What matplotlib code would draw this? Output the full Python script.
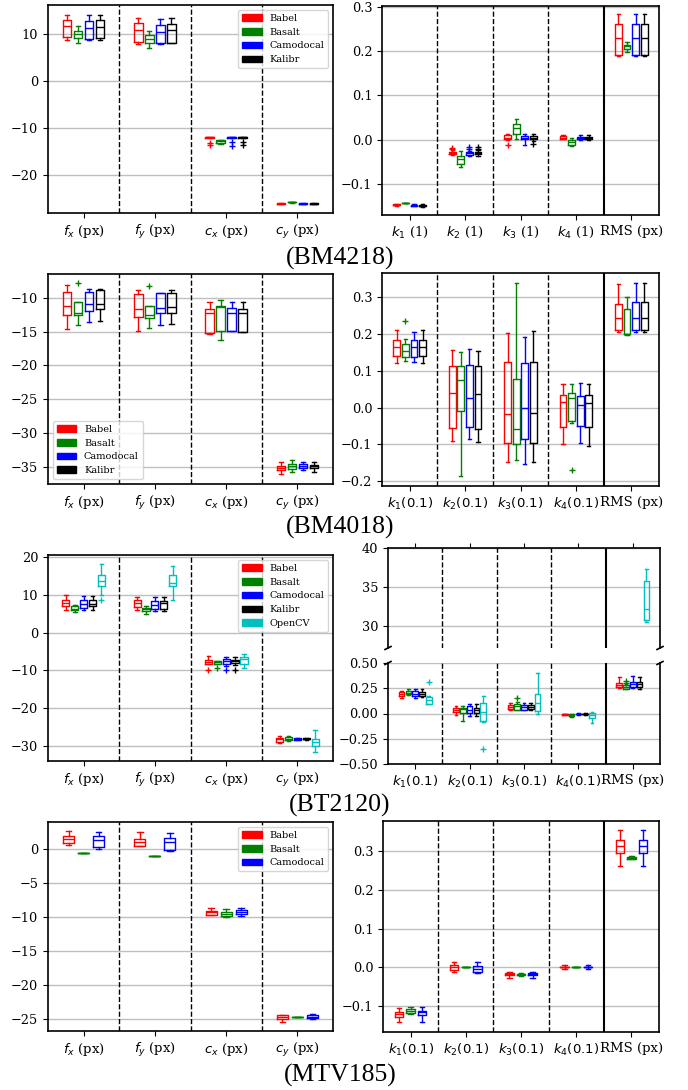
import matplotlib
matplotlib.use('Agg')
import matplotlib.pyplot as plt
import matplotlib.patches as mpatches

plt.rcParams['font.family'] = ['DejaVu Serif']
plt.rcParams['mathtext.fontset'] = 'dejavusans'

SERIES = ['Babel', 'Basalt', 'Camodocal', 'Kalibr', 'OpenCV']
COLORS = ['#ff0000', '#008000', '#0000ff', '#000000', '#00bfbf']

INTR_LABELS = [r'$f_x$ (px)', r'$f_y$ (px)', r'$c_x$ (px)', r'$c_y$ (px)']
DIST_LABELS_1 = [r'$k_1$ (1)', r'$k_2$ (1)', r'$k_3$ (1)', r'$k_4$ (1)', 'RMS (px)']
DIST_LABELS_01 = [r'$k_1(0.1)$', r'$k_2(0.1)$', r'$k_3(0.1)$', r'$k_4(0.1)$', 'RMS (px)']
CAPTIONS = ['(BM4218)', '(BM4018)', '(BT2120)', '(MTV185)']

# each entry: [whisker_low, q1, median, q3, whisker_high] per category
# ---------------- BM4218 ----------------
bm4218_intr_babel = [[8.7, 9.3, 11.8, 13.0, 14.1], [7.9, 8.4, 10.9, 12.3, 13.4], [-12.2, -12.1, -12.0, -11.95, -11.9], [-26.25, -26.15, -26.1, -26.0, -25.95]]
bm4218_intr_basalt = [[8.2, 9.1, 10.0, 10.7, 11.7], [7.1, 8.1, 8.9, 9.8, 10.7], [-13.3, -13.1, -12.85, -12.6, -12.5], [-25.9, -25.85, -25.8, -25.75, -25.7]]
bm4218_intr_camodocal = [[8.7, 8.9, 11.2, 12.7, 14.0], [8.0, 8.1, 10.5, 12.0, 13.3], [-12.2, -12.1, -12.0, -11.95, -11.9], [-26.2, -26.15, -26.1, -26.05, -26.0]]
bm4218_intr_kalibr = [[8.7, 9.1, 11.6, 13.0, 14.1], [8.1, 8.2, 10.9, 12.1, 13.4], [-12.2, -12.1, -12.0, -11.95, -11.9], [-26.2, -26.15, -26.1, -26.05, -26.0]]
bm4218_intr_fliers = [{2: [-13.2, -13.6]}, {}, {2: [-13.0, -13.8]}, {2: [-12.9, -13.6]}]

bm4218_dist_babel = [[-0.149, -0.148, -0.147, -0.146, -0.145], [-0.034, -0.032, -0.030, -0.027, -0.024], [0.0, 0.001, 0.005, 0.011, 0.014], [0.001, 0.002, 0.005, 0.008, 0.011], [0.189, 0.192, 0.230, 0.261, 0.284]]
bm4218_dist_basalt = [[-0.144, -0.1435, -0.143, -0.1425, -0.142], [-0.062, -0.054, -0.043, -0.037, -0.025], [0.001, 0.013, 0.026, 0.035, 0.047], [-0.015, -0.011, -0.005, 0.0, 0.005], [0.199, 0.204, 0.211, 0.215, 0.221]]
bm4218_dist_camodocal = [[-0.150, -0.149, -0.148, -0.147, -0.146], [-0.036, -0.034, -0.031, -0.028, -0.025], [-0.011, 0.001, 0.005, 0.009, 0.013], [-0.001, 0.001, 0.004, 0.007, 0.011], [0.189, 0.192, 0.230, 0.261, 0.284]]
bm4218_dist_kalibr = [[-0.151, -0.150, -0.149, -0.148, -0.146], [-0.036, -0.033, -0.030, -0.027, -0.024], [-0.003, 0.001, 0.005, 0.009, 0.013], [0.0, 0.002, 0.004, 0.007, 0.011], [0.189, 0.192, 0.230, 0.261, 0.284]]
bm4218_dist_fliers = [{1: [-0.020, -0.018], 2: [-0.011]}, {}, {1: [-0.020, -0.016]}, {1: [-0.020, -0.016], 2: [-0.010]}]

# ---------------- BM4018 ----------------
bm4018_intr_babel = [[-14.6, -12.6, -11.2, -9.1, -8.1], [-14.9, -12.9, -11.6, -9.5, -8.8], [-15.3, -15.2, -12.3, -11.6, -10.7], [-36.0, -35.4, -35.1, -34.8, -34.3]]
bm4018_intr_basalt = [[-14.0, -12.6, -12.3, -10.7, -10.7], [-14.4, -13.0, -12.6, -11.2, -11.2], [-16.3, -14.9, -11.4, -11.2, -10.4], [-35.8, -35.3, -34.8, -34.6, -33.9]]
bm4018_intr_camodocal = [[-13.6, -11.9, -11.0, -9.1, -8.7], [-14.1, -12.3, -11.5, -9.3, -9.3], [-14.9, -14.9, -12.2, -11.5, -10.7], [-35.5, -35.1, -34.8, -34.6, -34.2]]
bm4018_intr_kalibr = [[-13.4, -11.7, -10.9, -8.9, -8.7], [-13.9, -12.2, -11.3, -9.3, -8.9], [-15.1, -15.0, -12.3, -11.6, -10.7], [-35.7, -35.2, -34.9, -34.7, -34.3]]
bm4018_intr_fliers = [{}, {0: [-7.9], 1: [-8.3]}, {}, {}]

bm4018_dist_babel = [[0.121, 0.141, 0.165, 0.183, 0.210], [-0.090, -0.056, 0.039, 0.114, 0.157], [-0.149, -0.095, -0.018, 0.123, 0.203], [-0.100, -0.052, 0.015, 0.035, 0.064], [0.205, 0.212, 0.243, 0.281, 0.336]]
bm4018_dist_basalt = [[0.127, 0.139, 0.155, 0.173, 0.186], [-0.186, -0.008, 0.074, 0.112, 0.150], [-0.143, -0.100, -0.059, 0.077, 0.340], [-0.041, -0.036, 0.025, 0.039, 0.063], [0.198, 0.200, 0.201, 0.268, 0.300]]
bm4018_dist_camodocal = [[0.124, 0.139, 0.166, 0.183, 0.205], [-0.084, -0.052, 0.026, 0.115, 0.159], [-0.154, -0.086, 0.0, 0.120, 0.192], [-0.095, -0.050, 0.006, 0.032, 0.066], [0.205, 0.212, 0.243, 0.287, 0.340]]
bm4018_dist_kalibr = [[0.121, 0.141, 0.165, 0.185, 0.211], [-0.093, -0.057, 0.036, 0.114, 0.155], [-0.147, -0.096, -0.015, 0.125, 0.207], [-0.103, -0.053, 0.012, 0.035, 0.064], [0.205, 0.212, 0.243, 0.287, 0.340]]
bm4018_dist_fliers = [{}, {0: [0.235], 3: [-0.170]}, {}, {}]

# ---------------- BT2120 ----------------
bt2120_intr_babel = [[6.1, 7.2, 7.9, 8.7, 9.9], [5.9, 6.8, 7.9, 8.6, 9.6], [-8.4, -8.4, -7.7, -7.1, -6.3], [-29.1, -28.9, -28.2, -27.8, -27.3]]
bt2120_intr_basalt = [[5.4, 5.9, 6.4, 7.0, 7.3], [4.9, 5.7, 6.4, 6.6, 7.0], [-8.4, -8.4, -7.8, -7.4, -7.4], [-28.7, -28.5, -28.1, -27.7, -27.4]]
bt2120_intr_camodocal = [[5.9, 6.6, 7.7, 8.6, 9.8], [5.7, 6.4, 7.3, 8.3, 9.5], [-8.9, -8.3, -7.5, -7.0, -6.4], [-28.5, -28.4, -28.2, -28.0, -27.9]]
bt2120_intr_kalibr = [[6.1, 7.0, 7.7, 8.6, 9.8], [5.8, 6.3, 7.8, 8.4, 9.4], [-8.5, -8.0, -7.6, -7.1, -6.4], [-28.4, -28.3, -28.2, -28.0, -27.9]]
bt2120_intr_opencv = [[9.9, 12.3, 13.8, 15.4, 18.1], [8.6, 12.4, 13.3, 15.3, 17.7], [-9.3, -8.2, -6.9, -6.4, -5.6], [-31.6, -30.0, -28.9, -28.2, -25.7]]
bt2120_intr_fliers = [{2: [-10.0]}, {2: [-9.4]}, {2: [-10.0]}, {2: [-9.9]}, {0: [8.6]}]

bt2120_dist_babel = [[0.157, 0.170, 0.193, 0.213, 0.223], [-0.016, 0.010, 0.039, 0.056, 0.079], [0.033, 0.043, 0.066, 0.089, 0.105], [-0.016, -0.013, -0.007, -0.002, 0.0], [0.252, 0.262, 0.285, 0.302, 0.361]]
bt2120_dist_basalt = [[0.180, 0.190, 0.207, 0.223, 0.246], [-0.079, 0.007, 0.049, 0.056, 0.072], [0.033, 0.039, 0.072, 0.098, 0.115], [-0.039, -0.023, -0.010, -0.003, 0.0], [0.243, 0.246, 0.262, 0.279, 0.290]]
bt2120_dist_camodocal = [[0.157, 0.170, 0.197, 0.220, 0.243], [-0.026, 0.007, 0.039, 0.075, 0.098], [0.030, 0.039, 0.066, 0.089, 0.108], [-0.012, -0.009, -0.005, -0.002, 0.001], [0.252, 0.262, 0.289, 0.308, 0.367]]
bt2120_dist_kalibr = [[0.160, 0.170, 0.197, 0.216, 0.239], [-0.026, 0.007, 0.033, 0.056, 0.092], [0.033, 0.043, 0.066, 0.082, 0.105], [-0.012, -0.009, -0.005, -0.002, 0.001], [0.246, 0.262, 0.289, 0.308, 0.364]]
bt2120_dist_opencv = [[0.092, 0.095, 0.131, 0.164, 0.170], [-0.089, -0.079, 0.016, 0.105, 0.174], [-0.007, 0.026, 0.102, 0.190, 0.397], [-0.095, -0.049, -0.013, 0.007, 0.016], [30.5, 30.7, 32.1, 35.7, 37.3]]
bt2120_dist_fliers = [{}, {2: [0.157], 4: [0.303, 0.318]}, {}, {}, {0: [0.311], 1: [-0.351]}]

# ---------------- MTV185 ----------------
mtv185_intr_babel = [[0.59, 0.88, 1.47, 1.96, 2.75], [0.49, 0.54, 1.13, 1.52, 2.5], [-9.73, -9.63, -9.28, -9.04, -8.69], [-25.4, -25.0, -24.65, -24.4, -24.35]]
mtv185_intr_basalt = [[-0.59, -0.59, -0.59, -0.59, -0.59], [-0.93, -0.93, -0.93, -0.93, -0.93], [-10.0, -9.82, -9.53, -9.18, -8.79], [-24.7, -24.7, -24.7, -24.7, -24.7]]
mtv185_intr_camodocal = [[0.0, 0.39, 1.38, 1.96, 2.6], [-0.2, -0.1, 1.13, 1.62, 2.36], [-9.77, -9.58, -9.18, -8.94, -8.69], [-24.95, -24.85, -24.6, -24.4, -24.2]]
mtv185_intr_fliers = [{}, {}, {}]

mtv185_dist_babel = [[-0.142, -0.129, -0.121, -0.115, -0.106], [-0.013, -0.007, 0.0, 0.005, 0.014], [-0.028, -0.021, -0.018, -0.015, -0.012], [-0.003, 0.0, 0.001, 0.002, 0.005], [0.261, 0.295, 0.313, 0.328, 0.354]]
mtv185_dist_basalt = [[-0.120, -0.118, -0.112, -0.108, -0.103], [0.0, 0.0, 0.0, 0.0, 0.0], [-0.022, -0.020, -0.018, -0.017, -0.015], [0.0, 0.0, 0.0, 0.0, 0.0], [0.280, 0.281, 0.283, 0.286, 0.287]]
mtv185_dist_camodocal = [[-0.140, -0.124, -0.116, -0.112, -0.102], [-0.015, -0.013, -0.004, 0.004, 0.015], [-0.027, -0.020, -0.016, -0.015, -0.011], [-0.004, 0.0, 0.001, 0.002, 0.006], [0.262, 0.296, 0.313, 0.330, 0.355]]
mtv185_dist_fliers = [{}, {}, {}]

W, H = 688, 1090
TICK_FS = 9.3
XLAB_FS = 9.5
LEG_FS = 7


def frac(x0, y0, x1, y1):
    return [x0 / W, 1 - y1 / H, (x1 - x0) / W, (y1 - y0) / H]


def layout_for(n):
    if n == 3:
        return [-0.21, 0.0, 0.21], 0.155
    if n == 4:
        return [-0.2325, -0.0775, 0.0775, 0.2325], 0.12
    return [-0.25, -0.125, 0.0, 0.125, 0.25], 0.1


def draw_boxes(ax, series, fliers):
    offs, w = layout_for(len(series))
    for i, stats in enumerate(series):
        c = COLORS[i]
        bx = []
        for j, s in enumerate(stats):
            lo, q1, med, q3, hi = s
            bx.append(dict(whislo=lo, q1=q1, med=med, q3=q3, whishi=hi,
                           fliers=fliers[i].get(j, [])))
        pos = [j + 1 + offs[i] for j in range(len(stats))]
        ax.bxp(bx, positions=pos, widths=w, manage_ticks=False, showfliers=True,
               boxprops=dict(color=c, lw=1.0),
               medianprops=dict(color=c, lw=1.0),
               whiskerprops=dict(color=c, lw=1.0),
               capprops=dict(color=c, lw=1.0),
               flierprops=dict(marker='+', markeredgecolor=c, markersize=5, mew=1.0))


def style(ax, labels, ylim, yticks, solid=False, showx=True):
    n = len(labels)
    ax.set_xlim(0.5, n + 0.5)
    ax.set_ylim(*ylim)
    ax.set_yticks(yticks)
    ax.set_xticks(range(1, n + 1))
    if showx:
        ax.set_xticklabels(labels, fontsize=XLAB_FS)
    else:
        ax.set_xticklabels([])
    ax.tick_params(axis='y', labelsize=TICK_FS)
    ax.yaxis.grid(True, color='0.75', lw=1.0)
    ax.set_axisbelow(True)
    for k in range(1, n):
        if solid and k == n - 1:
            ax.axvline(k + 0.5, color='k', lw=1.5)
        else:
            ax.axvline(k + 0.5, color='k', ls='--', lw=1.0)
    for sp in ax.spines.values():
        sp.set_linewidth(1.2)


def legend(ax, n, loc):
    handles = [mpatches.Patch(color=COLORS[i], label=SERIES[i]) for i in range(n)]
    ax.legend(handles=handles, loc=loc, fontsize=LEG_FS)


fig = plt.figure(figsize=(6.88, 10.9), dpi=100)

# Row 1
ax = fig.add_axes(frac(48, 5, 333, 213))
s = [bm4218_intr_babel, bm4218_intr_basalt, bm4218_intr_camodocal, bm4218_intr_kalibr]
draw_boxes(ax, s, bm4218_intr_fliers)
style(ax, INTR_LABELS, (-28.1, 16.2), [-20, -10, 0, 10])
legend(ax, 4, 'upper right')

ax = fig.add_axes(frac(382, 6, 659, 215))
s = [bm4218_dist_babel, bm4218_dist_basalt, bm4218_dist_camodocal, bm4218_dist_kalibr]
draw_boxes(ax, s, bm4218_dist_fliers)
style(ax, DIST_LABELS_1, (-0.17, 0.302), [-0.1, 0.0, 0.1, 0.2, 0.3], solid=True)

# Row 2
ax = fig.add_axes(frac(48, 274, 333, 484))
s = [bm4018_intr_babel, bm4018_intr_basalt, bm4018_intr_camodocal, bm4018_intr_kalibr]
draw_boxes(ax, s, bm4018_intr_fliers)
style(ax, INTR_LABELS, (-37.5, -6.5), [-35, -30, -25, -20, -15, -10])
legend(ax, 4, 'lower left')

ax = fig.add_axes(frac(382, 273, 659, 486))
s = [bm4018_dist_babel, bm4018_dist_basalt, bm4018_dist_camodocal, bm4018_dist_kalibr]
draw_boxes(ax, s, bm4018_dist_fliers)
style(ax, DIST_LABELS_01, (-0.213, 0.366), [-0.2, -0.1, 0.0, 0.1, 0.2, 0.3], solid=True)

# Row 3
ax = fig.add_axes(frac(48, 555, 333, 761))
s = [bt2120_intr_babel, bt2120_intr_basalt, bt2120_intr_camodocal, bt2120_intr_kalibr, bt2120_intr_opencv]
draw_boxes(ax, s, bt2120_intr_fliers)
style(ax, INTR_LABELS, (-34.0, 20.6), [-30, -20, -10, 0, 10, 20])
legend(ax, 5, 'upper right')

s = [bt2120_dist_babel, bt2120_dist_basalt, bt2120_dist_camodocal, bt2120_dist_kalibr, bt2120_dist_opencv]
ax_t = fig.add_axes(frac(388, 548, 660, 648))
draw_boxes(ax_t, s, bt2120_dist_fliers)
style(ax_t, DIST_LABELS_01, (27.15, 40.0), [30, 35, 40], solid=True, showx=False)
ax_t.xaxis.tick_top()
ax_t.tick_params(axis='x', labeltop=False)
ax_t.spines['bottom'].set_visible(False)

ax_b = fig.add_axes(frac(388, 663, 660, 764))
draw_boxes(ax_b, s, bt2120_dist_fliers)
style(ax_b, DIST_LABELS_01, (-0.5, 0.5), [-0.5, -0.25, 0.0, 0.25, 0.5], solid=True)
ax_b.spines['top'].set_visible(False)
ax_b.xaxis.tick_bottom()

dx, dy = 0.011, 0.015
kw = dict(color='k', clip_on=False, lw=1.2)
ax_t.plot((-dx, +dx), (-dy, +dy), transform=ax_t.transAxes, **kw)
ax_t.plot((1 - dx, 1 + dx), (-dy, +dy), transform=ax_t.transAxes, **kw)
ax_b.plot((-dx, +dx), (1 - dy, 1 + dy), transform=ax_b.transAxes, **kw)
ax_b.plot((1 - dx, 1 + dx), (1 - dy, 1 + dy), transform=ax_b.transAxes, **kw)

# Row 4
ax = fig.add_axes(frac(48, 822, 333, 1031))
s = [mtv185_intr_babel, mtv185_intr_basalt, mtv185_intr_camodocal]
draw_boxes(ax, s, mtv185_intr_fliers)
style(ax, INTR_LABELS, (-26.7, 4.0), [-25, -20, -15, -10, -5, 0])
legend(ax, 3, 'upper right')

ax = fig.add_axes(frac(383, 821, 659, 1032))
s = [mtv185_dist_babel, mtv185_dist_basalt, mtv185_dist_camodocal]
draw_boxes(ax, s, mtv185_dist_fliers)
style(ax, DIST_LABELS_01, (-0.167, 0.378), [-0.1, 0.0, 0.1, 0.2, 0.3], solid=True)

# captions
for cap, yc in zip(CAPTIONS, [258, 527, 805, 1075]):
    fig.text(340 / W, 1 - yc / H, cap, ha='center', va='center',
             fontsize=18.5, family='Liberation Serif')

fig.savefig('out.png', dpi=100)
